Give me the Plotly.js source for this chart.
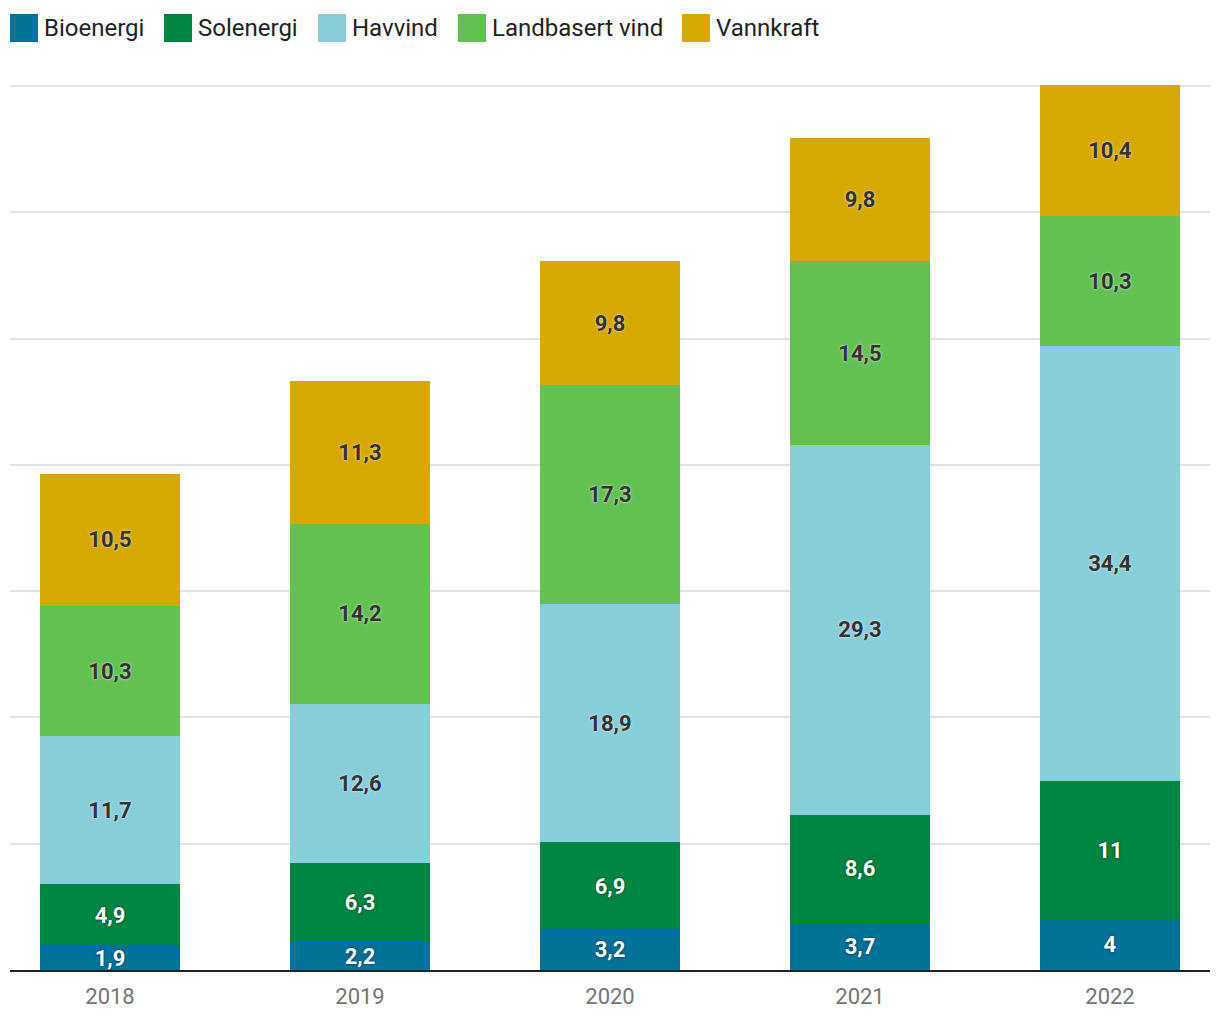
<!DOCTYPE html>
<html>
<head>
<meta charset="utf-8">
<script src="https://cdn.plot.ly/plotly-3.0.1.min.js"></script>
<style>html,body{margin:0;padding:0;background:#fff;}#chart{width:1220px;height:1020px;}</style>
</head>
<body>
<div id="chart"></div>
<script>
const years = ['2018', '2019', '2020', '2021', '2022'];
const seriesNames = ['Bioenergi', 'Solenergi', 'Havvind', 'Landbasert vind', 'Vannkraft'];
const bioenergi = [1.9, 2.2, 3.2, 3.7, 4];
const solenergi = [4.9, 6.3, 6.9, 8.6, 11];
const havvind = [11.7, 12.6, 18.9, 29.3, 34.4];
const landbasertVind = [10.3, 14.2, 17.3, 14.5, 10.3];
const vannkraft = [10.5, 11.3, 9.8, 9.8, 10.4];
const colors = ['#00739a', '#008542', '#87cdda', '#62c151', '#d6a800'];
const textColors = ['#ffffff', '#ffffff', '#333333', '#333333', '#333333'];
const shadows = ['0px 0px 3px rgba(0,0,0,0.6)', '0px 0px 3px rgba(0,0,0,0.6)', '0px 0px 3px rgba(255,255,255,0.8)', '0px 0px 3px rgba(255,255,255,0.8)', '0px 0px 3px rgba(255,255,255,0.8)'];
const allSeries = [bioenergi, solenergi, havvind, landbasertVind, vannkraft];

const fmt = v => String(v).replace('.', ',');

const traces = allSeries.map((vals, i) => ({
  type: 'bar',
  name: seriesNames[i],
  x: years,
  y: vals,
  text: vals.map(fmt),
  textposition: 'inside',
  insidetextanchor: 'middle',
  textangle: 0,
  constraintext: 'none',
  textfont: {family: 'Roboto', size: 22, color: textColors[i], weight: 700, shadow: shadows[i]},
  marker: {color: colors[i], line: {width: 0}},
  width: 0.56,
  hoverinfo: 'none',
  showlegend: false
}));

// Legend drawn with shapes + annotations
const legendX = [10, 164, 318, 458, 682];

const layout = {
  width: 1220, height: 1020,
  margin: {l: 10, r: 10, t: 80, b: 50},
  paper_bgcolor: '#fff', plot_bgcolor: '#fff',
  barmode: 'stack',
  font: {family: 'Roboto', color: '#222'},
  separators: ', ',
  uniformtext: {mode: 'show', minsize: 22},
  xaxis: {
    type: 'category', range: [-0.4, 4.4], showgrid: false, zeroline: false,
    showline: true, linecolor: '#222', linewidth: 2,
    ticks: '', tickfont: {family: 'Roboto', size: 22, color: '#757575'}, ticklabelstandoff: 6
  },
  yaxis: {
    range: [0, 70.47], dtick: 10, showgrid: true, gridcolor: '#e3e3e3', gridwidth: 2,
    zeroline: false, showticklabels: false, ticks: ''
  },
  showlegend: false,
  shapes: seriesNames.map((n, i) => ({
    type: 'rect', xref: 'paper', yref: 'paper',
    x0: (legendX[i] - 10) / 1200, x1: (legendX[i] + 18) / 1200,
    y0: (970 - 42) / 890, y1: (970 - 14) / 890,
    fillcolor: colors[i], line: {width: 0}
  })),
  annotations: seriesNames.map((n, i) => ({
    xref: 'paper', yref: 'paper', x: (legendX[i] + 22) / 1200, y: (970 - 28) / 890,
    xanchor: 'left', yanchor: 'middle', text: n, showarrow: false,
    font: {family: 'Roboto', size: 24, color: '#222'}
  }))
};
Plotly.newPlot('chart', traces, layout, {staticPlot: true});
</script>
</body>
</html>
